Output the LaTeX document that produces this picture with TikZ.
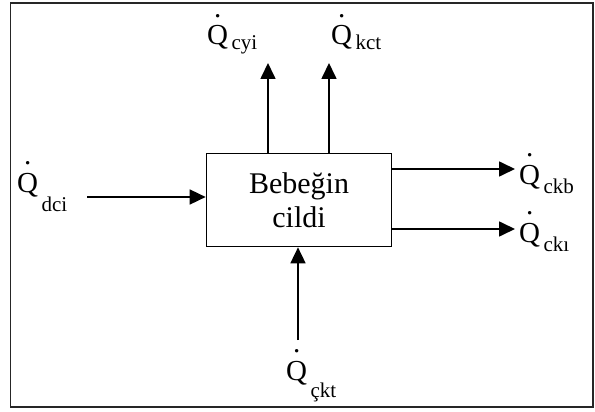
\documentclass[tikz,border=0pt]{standalone}
\usepackage{fontspec}
\setmainfont{Liberation Serif}
\usetikzlibrary{arrows.meta}
% #1 = lowering of the subscript, #2 = subscript text
\newcommand\Qd[2]{{\fontsize{29}{29}\selectfont\ooalign{Q\cr\hidewidth\raisebox{0.96em}[0pt][0pt]{.}\hidewidth\cr}\hspace{0.12em}\raisebox{-#1}{\fontsize{21}{21}\selectfont #2}}}
\begin{document}
\begin{tikzpicture}[x=1pt,y=-1pt,
  arr/.style={line width=1.7pt,-{Triangle[length=16pt,width=15pt]}},
  lbl/.style={anchor=base west,inner sep=0pt}]
\useasboundingbox (0,0) rectangle (595,412);
\draw[line width=1.2pt,black!85] (10.5,3) rectangle (593,407);
\node[draw,line width=1.7pt,minimum width=185pt,minimum height=93pt,align=center,
  font=\fontsize{30}{34}\selectfont] (box) at (299,200) {Bebeğin\\cildi};
% top
\coordinate (tcyi) at (268,63);
\coordinate (tkct) at (329,63);
\draw[arr] (tcyi |- box.north) -- (tcyi);
\draw[arr] (tkct |- box.north) -- (tkct);
\node[lbl] (qcyi) at (207,45) {\Qd{5pt}{cyi}};
\node[lbl] (qkct) at (331,45) {\Qd{5pt}{kct}};
% left
\coordinate (sdci) at (87,197);
\draw[arr] (sdci) -- (sdci -| box.west);
\node[lbl] (qdci) at (17,192) {\Qd{19pt}{dci}};
% right
\coordinate (tckb) at (515,169);
\coordinate (tcki) at (515,229);
\draw[arr] (tckb -| box.east) -- (tckb);
\draw[arr] (tcki -| box.east) -- (tcki);
\node[lbl] (qckb) at (519,184) {\Qd{9pt}{ckb}};
\node[lbl] (qcki) at (519,242) {\Qd{9pt}{ckı}};
% bottom
\coordinate (sckt) at (298,340);
\draw[arr] (sckt) -- (sckt |- box.south);
\node[lbl] (qckt) at (286,380) {\Qd{17pt}{çkt}};
\end{tikzpicture}
\end{document}
